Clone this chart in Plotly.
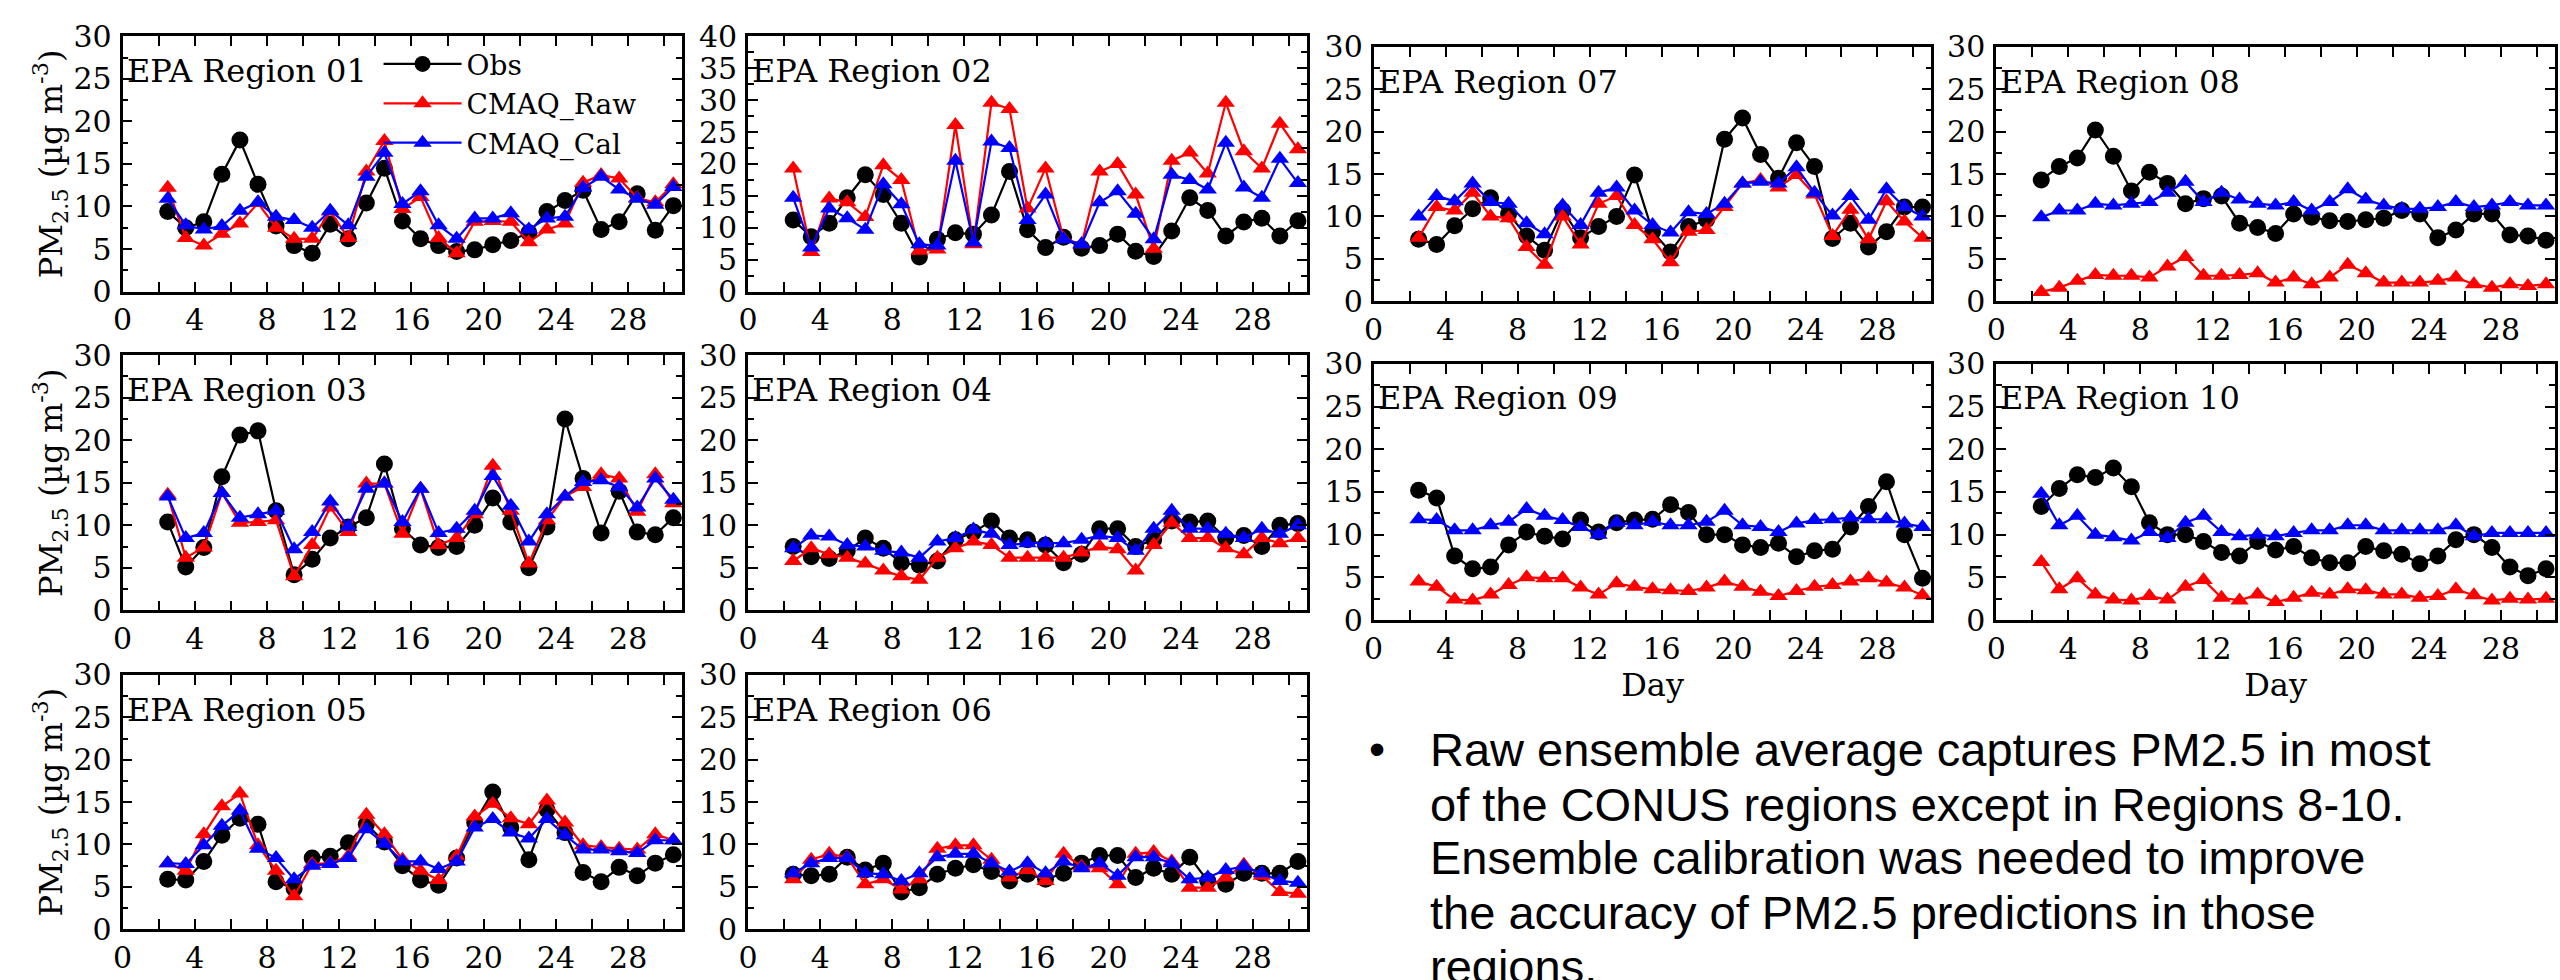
import plotly.graph_objects as go

# ---------------- data ----------------
DAYS = [2.5, 3.5, 4.5, 5.5, 6.5, 7.5, 8.5, 9.5, 10.5, 11.5, 12.5, 13.5, 14.5, 15.5, 16.5,
        17.5, 18.5, 19.5, 20.5, 21.5, 22.5, 23.5, 24.5, 25.5, 26.5, 27.5, 28.5, 29.5, 30.5]
REGIONS = ["01", "02", "03", "04", "05", "06", "07", "08", "09", "10"]
SERIES = ["Obs", "CMAQ_Raw", "CMAQ_Cal"]
X_TICKS = [0, 4, 8, 12, 16, 20, 24, 28]
X_MINOR = [2, 6, 10, 14, 18, 22, 26, 30]
Y_TICKS_30 = [0, 5, 10, 15, 20, 25, 30]
Y_MINOR_30 = [2.5, 7.5, 12.5, 17.5, 22.5, 27.5]
Y_TICKS_40 = [0, 5, 10, 15, 20, 25, 30, 35, 40]
Y_MINOR_40 = [2.5, 7.5, 12.5, 17.5, 22.5, 27.5, 32.5, 37.5]

OBS_01 = [9.4, 7.5, 8.2, 13.8, 17.8, 12.6, 7.7, 5.4, 4.5, 7.9, 6.2, 10.4, 14.5, 8.3, 6.2,
          5.4, 4.7, 4.9, 5.5, 6.0, 6.9, 9.4, 10.7, 11.9, 7.3, 8.2, 11.5, 7.2, 10.1]
RAW_01 = [12.2, 6.3, 5.4, 6.8, 8.0, 10.4, 7.5, 6.2, 6.2, 9.4, 6.3, 14.1, 17.7, 9.7, 11.1,
          6.3, 4.5, 8.2, 8.3, 8.2, 5.8, 7.3, 8.0, 12.8, 13.7, 13.3, 11.0, 10.5, 12.6]
CAL_01 = [10.9, 7.8, 7.3, 7.7, 9.5, 10.5, 8.8, 8.4, 7.5, 9.5, 7.8, 13.5, 16.3, 10.3, 11.8,
          7.8, 6.2, 8.6, 8.6, 9.2, 7.3, 8.6, 8.8, 12.2, 13.5, 12.0, 10.9, 10.2, 12.3]

OBS_02 = [11.2, 8.6, 10.7, 14.7, 18.3, 15.2, 10.7, 5.4, 8.2, 9.2, 9.0, 12.0, 18.8, 9.7, 6.9,
          8.5, 6.8, 7.2, 9.0, 6.3, 5.5, 9.5, 14.7, 12.7, 8.7, 10.9, 11.5, 8.7, 11.1]
RAW_02 = [19.3, 6.2, 14.6, 14.0, 11.7, 19.8, 17.5, 6.4, 6.6, 26.1, 7.4, 29.6, 28.6, 13.0, 19.3,
          8.3, 7.4, 18.8, 20.0, 15.2, 6.7, 20.5, 21.8, 18.5, 29.6, 22.0, 19.3, 26.3, 22.3]
CAL_02 = [14.7, 6.9, 13.0, 11.5, 9.7, 16.8, 13.7, 7.4, 7.2, 20.5, 7.7, 23.5, 22.5, 11.2, 15.2,
          8.2, 7.4, 14.0, 15.7, 12.2, 8.2, 18.3, 17.5, 16.0, 23.3, 16.3, 14.7, 20.8, 17.0]

OBS_03 = [10.4, 5.1, 7.4, 15.7, 20.6, 21.1, 11.7, 4.2, 6.0, 8.5, 9.8, 10.9, 17.2, 9.6, 7.7,
          7.4, 7.5, 10.0, 13.2, 10.4, 5.0, 9.8, 22.5, 15.5, 9.1, 14.0, 9.2, 8.9, 10.9]
RAW_03 = [13.6, 6.2, 7.4, 13.8, 10.3, 10.4, 10.6, 4.0, 7.7, 12.1, 9.2, 14.9, 14.9, 9.0, 14.3,
          7.7, 8.5, 11.3, 17.0, 11.7, 5.5, 10.6, 13.4, 14.5, 16.0, 15.5, 11.6, 16.0, 12.6]
CAL_03 = [13.4, 8.5, 9.1, 13.8, 10.9, 11.3, 11.7, 7.2, 9.2, 12.8, 9.8, 14.3, 14.9, 10.4, 14.3,
          9.1, 9.6, 11.7, 15.8, 12.3, 8.1, 11.3, 13.4, 15.1, 15.3, 14.5, 12.1, 15.5, 13.0]

OBS_04 = [7.5, 6.3, 6.1, 7.0, 8.5, 7.3, 5.6, 5.3, 5.8, 8.3, 9.2, 10.5, 8.5, 8.3, 7.7,
          5.6, 6.6, 9.6, 9.6, 7.5, 8.3, 10.5, 10.4, 10.5, 8.5, 8.8, 7.5, 10.0, 10.2]
RAW_04 = [5.8, 7.3, 6.6, 6.2, 5.5, 4.7, 4.0, 3.6, 6.2, 7.3, 8.1, 7.7, 6.2, 6.2, 6.2,
          6.2, 6.8, 7.5, 7.2, 4.7, 7.7, 10.3, 8.5, 8.5, 7.3, 6.6, 8.5, 7.9, 8.5]
CAL_04 = [7.3, 8.8, 8.7, 7.7, 7.5, 7.0, 6.8, 6.2, 8.1, 8.5, 9.5, 9.0, 7.7, 7.9, 7.9,
          7.9, 8.3, 8.8, 8.5, 7.0, 9.6, 11.7, 9.6, 9.6, 9.0, 8.5, 9.6, 9.0, 10.0]

OBS_05 = [5.9, 5.8, 8.0, 11.1, 13.1, 12.4, 5.6, 4.8, 8.4, 8.6, 10.2, 12.4, 10.3, 7.5, 5.8,
          5.2, 8.4, 12.6, 16.2, 12.0, 8.2, 14.1, 11.4, 6.7, 5.6, 7.3, 6.3, 7.8, 8.8]
RAW_05 = [7.8, 6.9, 11.2, 14.5, 16.0, 9.9, 6.9, 3.9, 7.7, 7.8, 8.6, 13.5, 11.2, 8.2, 6.9,
          5.8, 8.6, 13.3, 14.8, 13.1, 12.4, 15.2, 12.6, 9.9, 9.7, 9.5, 9.4, 11.2, 10.5]
CAL_05 = [7.8, 7.7, 9.9, 12.2, 14.0, 9.5, 8.4, 5.9, 7.5, 7.7, 8.4, 11.8, 10.1, 8.0, 8.0,
          7.1, 8.0, 12.0, 13.0, 11.4, 10.7, 13.0, 11.1, 9.4, 9.4, 9.2, 9.0, 10.5, 10.5]

OBS_06 = [6.5, 6.3, 6.5, 8.5, 7.0, 7.8, 4.4, 4.9, 6.5, 7.2, 7.6, 6.8, 5.7, 6.5, 5.9,
          6.6, 7.8, 8.7, 8.7, 6.1, 7.2, 6.5, 8.5, 5.7, 5.3, 6.6, 6.6, 6.6, 8.0]
RAW_06 = [5.9, 8.2, 8.9, 8.5, 5.3, 5.9, 4.7, 5.9, 9.5, 9.9, 9.9, 8.2, 6.1, 7.0, 5.7,
          8.9, 7.4, 7.2, 5.3, 8.9, 9.1, 8.0, 4.9, 4.9, 6.1, 7.6, 6.3, 4.4, 4.2]
CAL_06 = [6.6, 7.8, 8.4, 8.4, 6.6, 6.5, 5.7, 6.6, 8.5, 8.9, 8.9, 7.8, 6.8, 7.8, 6.6,
          8.0, 7.2, 7.8, 6.3, 8.5, 8.5, 7.8, 5.9, 6.1, 7.0, 7.4, 6.6, 5.7, 5.5]

OBS_07 = [7.3, 6.7, 8.9, 10.9, 12.2, 10.3, 7.7, 6.0, 10.7, 7.5, 8.8, 10.0, 14.9, 8.2, 5.8,
          8.8, 9.6, 19.1, 21.6, 17.3, 14.5, 18.7, 15.9, 7.4, 9.2, 6.4, 8.2, 11.1, 11.1]
RAW_07 = [7.5, 11.1, 10.7, 12.8, 10.0, 9.8, 6.4, 4.3, 10.0, 6.7, 11.5, 12.4, 9.0, 7.3, 4.6,
          8.2, 8.4, 11.1, 13.9, 14.3, 13.4, 14.9, 12.6, 7.7, 10.8, 7.3, 11.8, 9.4, 7.5]
CAL_07 = [10.0, 12.4, 11.8, 13.9, 11.7, 11.5, 9.2, 7.9, 11.3, 9.0, 12.8, 13.4, 10.7, 9.0, 8.1,
          10.5, 10.3, 11.5, 13.9, 14.1, 13.9, 15.8, 12.8, 10.1, 12.4, 9.6, 13.2, 11.1, 10.0]

OBS_08 = [14.3, 15.9, 16.9, 20.2, 17.1, 13.0, 15.2, 13.9, 11.5, 12.1, 12.4, 9.2, 8.7, 8.0, 10.3,
          9.9, 9.5, 9.4, 9.6, 9.8, 10.7, 10.3, 7.5, 8.4, 10.3, 10.3, 7.8, 7.7, 7.2]
RAW_08 = [1.1, 1.6, 2.4, 3.1, 3.0, 3.0, 2.8, 4.1, 5.2, 3.0, 3.0, 3.1, 3.3, 2.2, 2.8,
          2.0, 2.8, 4.3, 3.3, 2.2, 2.2, 2.2, 2.4, 2.8, 2.0, 1.6, 2.0, 1.8, 2.0]
CAL_08 = [9.9, 10.7, 10.7, 11.5, 11.3, 11.5, 11.7, 12.8, 14.1, 11.7, 12.8, 12.0, 11.5, 11.3, 11.7,
          10.7, 11.7, 13.2, 12.0, 11.3, 10.9, 10.9, 11.1, 11.7, 11.1, 11.3, 11.7, 11.3, 11.3]

OBS_09 = [15.2, 14.3, 7.5, 6.0, 6.2, 8.8, 10.3, 9.8, 9.5, 11.7, 10.3, 11.4, 11.7, 11.8, 13.5,
          12.6, 10.0, 10.0, 8.8, 8.5, 9.0, 7.4, 8.1, 8.3, 10.9, 13.3, 16.2, 10.0, 4.9]
RAW_09 = [4.5, 3.9, 2.4, 2.3, 3.0, 4.1, 5.0, 4.9, 4.9, 3.8, 3.0, 4.3, 3.9, 3.6, 3.5,
          3.4, 3.8, 4.5, 3.9, 3.3, 2.8, 3.4, 3.9, 4.1, 4.5, 4.9, 4.4, 3.8, 2.9]
CAL_09 = [11.8, 11.7, 10.5, 10.5, 11.1, 11.5, 13.0, 12.2, 11.7, 10.9, 10.0, 11.4, 11.1, 11.5, 11.1,
          11.1, 11.5, 12.8, 11.1, 10.9, 10.3, 11.3, 11.7, 11.8, 12.0, 11.8, 11.8, 11.3, 10.9]

OBS_10 = [13.3, 15.4, 17.0, 16.7, 17.8, 15.6, 11.4, 10.0, 10.0, 9.2, 7.9, 7.5, 9.2, 8.2, 8.6,
          7.3, 6.7, 6.7, 8.6, 8.1, 7.7, 6.6, 7.5, 9.4, 10.0, 8.5, 6.2, 5.2, 6.0]
RAW_10 = [6.8, 3.6, 4.9, 3.0, 2.4, 2.3, 2.8, 2.4, 3.9, 4.7, 2.6, 2.3, 3.0, 2.1, 2.6,
          3.2, 3.0, 3.6, 3.5, 3.0, 3.0, 2.6, 2.8, 3.6, 2.9, 2.3, 2.5, 2.4, 2.5]
CAL_10 = [14.8, 11.1, 12.2, 10.0, 9.7, 9.3, 10.3, 9.6, 11.4, 12.2, 10.3, 9.8, 10.0, 9.8, 10.2,
          10.5, 10.5, 11.1, 11.1, 10.5, 10.5, 10.5, 10.5, 11.1, 9.8, 10.2, 10.2, 10.2, 10.2]

BULLET_LINES = [
    "Raw ensemble average captures PM2.5 in most",
    "of the CONUS regions except in Regions 8-10.",
    "Ensemble calibration was needed to improve",
    "the accuracy of PM2.5 predictions in those",
    "regions.",
]

# ---------------- layout / style ----------------
W, H = 2560, 980
SERIF = "DejaVu Serif"
SANS = "Liberation Sans"
# panel boxes in pixels: left, right, top, bottom
BOXES = {
    "01": (113, 675, 19, 284), "02": (741, 1302, 19, 284),
    "03": (113, 675, 350, 615), "04": (741, 1302, 350, 615),
    "05": (113, 675, 682, 946), "06": (741, 1302, 682, 946),
    "07": (1369, 1929, 30, 294), "08": (1994, 2555, 30, 294),
    "09": (1369, 1929, 359, 625), "10": (1994, 2555, 359, 625),
}
Y_TITLE_PANELS = {"01", "03", "05"}
X_TITLE_PANELS = {"09", "10"}

DATA = {
    "01": (OBS_01, RAW_01, CAL_01), "02": (OBS_02, RAW_02, CAL_02),
    "03": (OBS_03, RAW_03, CAL_03), "04": (OBS_04, RAW_04, CAL_04),
    "05": (OBS_05, RAW_05, CAL_05), "06": (OBS_06, RAW_06, CAL_06),
    "07": (OBS_07, RAW_07, CAL_07), "08": (OBS_08, RAW_08, CAL_08),
    "09": (OBS_09, RAW_09, CAL_09), "10": (OBS_10, RAW_10, CAL_10),
}
STYLES = [
    dict(color="black", symbol="circle", size=17),
    dict(color="#ff0000", symbol="triangle-up", size=16),
    dict(color="#0000ff", symbol="triangle-up", size=16),
]

fig = go.Figure()
layout = dict(
    width=W, height=H, margin=dict(l=0, r=0, t=0, b=0),
    paper_bgcolor="white", plot_bgcolor="white",
    font=dict(family=SERIF, size=30, color="black"),
    showlegend=True,
    legend=dict(x=370 / W, y=1 - 22 / H, xanchor="left", yanchor="top",
                bgcolor="rgba(0,0,0,0)", font=dict(family=SERIF, size=28, color="black"),
                itemwidth=78, tracegroupgap=0),
)

annotations = []
for i, reg in enumerate(REGIONS):
    n = i + 1
    sfx = "" if n == 1 else str(n)
    l, r, t, b = BOXES[reg]
    ymax = 40 if reg == "02" else 30
    yt = Y_TICKS_40 if reg == "02" else Y_TICKS_30
    ym = Y_MINOR_40 if reg == "02" else Y_MINOR_30
    common = dict(
        showline=True, linewidth=2.8, linecolor="black", mirror="ticks",
        ticks="inside", ticklen=10, tickwidth=2.2, tickcolor="black",
        showgrid=False, zeroline=False,
        tickfont=dict(family=SERIF, size=30, color="black"),
    )
    xa = dict(common, domain=[l / W, r / W], anchor="y" + sfx, range=[0, 31],
              tickmode="array", tickvals=X_TICKS,
              minor=dict(tickmode="array", tickvals=X_MINOR, ticks="inside",
                         ticklen=10, tickwidth=2.2, tickcolor="black"))
    if reg in X_TITLE_PANELS:
        xa["title"] = dict(text="Day", font=dict(family=SERIF, size=32), standoff=8)
    ya = dict(common, domain=[1 - b / H, 1 - t / H], anchor="x" + sfx, range=[0, ymax],
              tickmode="array", tickvals=yt, ticklabelstandoff=2,
              minor=dict(tickmode="array", tickvals=ym, ticks="inside",
                         ticklen=6, tickwidth=2.2, tickcolor="black"))
    if reg in Y_TITLE_PANELS:
        ya["title"] = dict(text="PM<sub>2.5</sub> (µg m<sup>-3</sup>)",
                           font=dict(family=SERIF, size=32), standoff=2)
    layout["xaxis" + sfx] = xa
    layout["yaxis" + sfx] = ya

    for k, (vals, st) in enumerate(zip(DATA[reg], STYLES)):
        fig.add_trace(go.Scatter(
            x=DAYS, y=vals, mode="lines+markers", name=SERIES[k],
            xaxis="x" + sfx, yaxis="y" + sfx,
            line=dict(color=st["color"], width=2.2),
            marker=dict(color=st["color"], symbol=st["symbol"], size=st["size"],
                        line=dict(width=0)),
            showlegend=(reg == "01"), legendgroup=SERIES[k],
            cliponaxis=False,
        ))

    annotations.append(dict(
        text="EPA Region " + reg, xref="x" + sfx + " domain", yref="y" + sfx + " domain",
        x=0.004, y=1 - 36 / (b - t), xanchor="left", yanchor="middle", showarrow=False,
        font=dict(family=SERIF, size=32, color="black"),
    ))

# bullet text
LINE_CENTERS = [759, 816, 872, 929, 985]
annotations.append(dict(text="•", xref="paper", yref="paper", x=1372 / W,
                        y=1 - LINE_CENTERS[0] / H, xanchor="center", yanchor="middle",
                        showarrow=False, font=dict(family=SANS, size=46, color="black")))
for line, yc in zip(BULLET_LINES, LINE_CENTERS):
    annotations.append(dict(text=line, xref="paper", yref="paper", x=1424 / W,
                            y=1 - yc / H, xanchor="left", yanchor="middle",
                            showarrow=False, font=dict(family=SANS, size=47, color="black")))

layout["annotations"] = annotations
fig.update_layout(**layout)
fig.write_html("out.html")
